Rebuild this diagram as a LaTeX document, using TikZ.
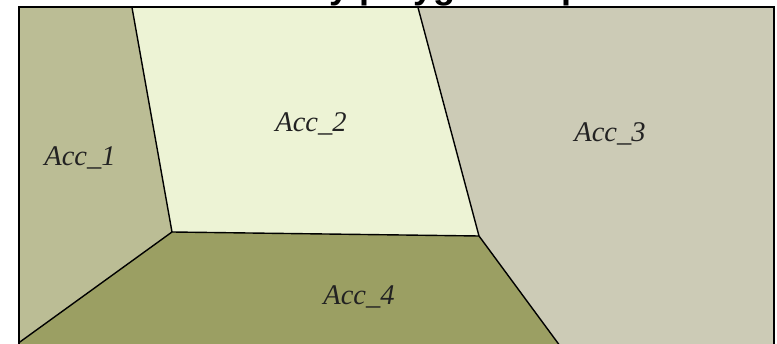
\documentclass[tikz,border=0pt]{standalone}
\usepackage{fontspec}
\setmainfont{Liberation Serif}
\newfontfamily\titlefont{Liberation Sans}
\definecolor{cone}{HTML}{BBBD95}
\definecolor{ctwo}{HTML}{EDF3D5}
\definecolor{cthree}{HTML}{CCCBB6}
\definecolor{cfour}{HTML}{9B9F63}
\definecolor{labelc}{HTML}{222222}
\tikzset{
  region/.style={fill=#1, draw=none},
  border/.style={draw=black, line width=1.4pt, line join=miter},
  frame/.style={draw=black, line width=2pt},
  acclabel/.style={font=\itshape\fontsize{28.5}{32}\selectfont, text=labelc, anchor=base, inner sep=0pt},
  titletext/.style={font=\titlefont\bfseries\fontsize{36}{40}\selectfont, anchor=base, inner sep=0pt}
}
\begin{document}
\begin{tikzpicture}[x=1pt,y=-1pt]
\useasboundingbox (0,0) rectangle (777,344);
\clip (0,0) rectangle (777,344);
\fill[white] (0,0) rectangle (777,344);
% vertices
\coordinate (tl) at (18.5,7.5);
\coordinate (tr) at (774,7.5);
\coordinate (br) at (774,350);
\coordinate (bl) at (18.5,350);
\coordinate (a) at (132,7.5);
\coordinate (b) at (418,7.5);
\coordinate (p) at (172,232);
\coordinate (q) at (479,236);
\coordinate (c) at (18.5,343);
\coordinate (d) at (563,350);
% regions
\path[region=cone] (tl) -- (a) -- (p) -- (c) -- cycle;
\path[region=ctwo] (a) -- (b) -- (q) -- (p) -- cycle;
\path[region=cthree] (b) -- (tr) -- (br) -- (d) -- (q) -- cycle;
\path[region=cfour] (p) -- (q) -- (d) -- (bl) -- (c) -- cycle;
% borders
\draw[border] (a) -- (p) -- (q) -- (b);
\draw[border] (p) -- (c);
\draw[border] (q) -- (d);
\draw[frame] (bl) -- (tl) -- (tr) -- (br);
% labels
\node[acclabel] (l1) at (80,166) {Acc\_1};
\node[acclabel] (l2) at (311,132) {Acc\_2};
\node[acclabel] (l3) at (610,142) {Acc\_3};
\node[acclabel] (l4) at (359,305) {Acc\_4};
% title (only its lower part shows)
\node[titletext] (title) at (394,-1) {Territory polygon map};
\end{tikzpicture}
\end{document}
